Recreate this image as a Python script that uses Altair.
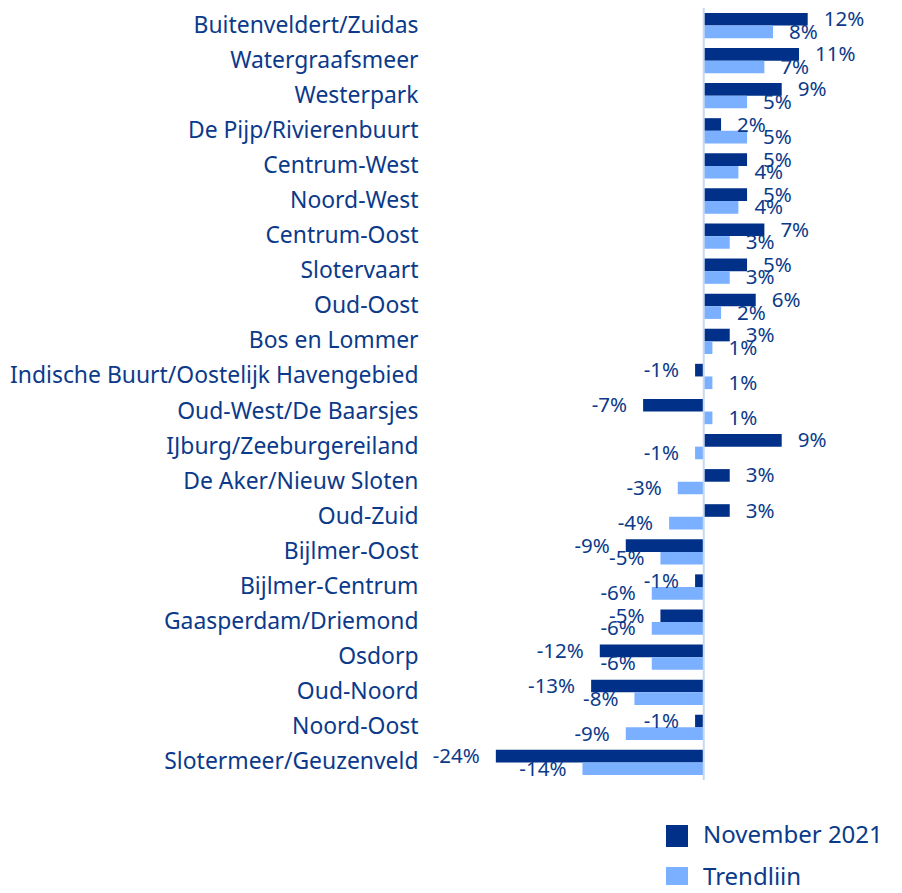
import altair as alt
import pandas as pd

categories = [
    "Buitenveldert/Zuidas", "Watergraafsmeer", "Westerpark", "De Pijp/Rivierenbuurt",
    "Centrum-West", "Noord-West", "Centrum-Oost", "Slotervaart", "Oud-Oost",
    "Bos en Lommer", "Indische Buurt/Oostelijk Havengebied", "Oud-West/De Baarsjes",
    "IJburg/Zeeburgereiland", "De Aker/Nieuw Sloten", "Oud-Zuid", "Bijlmer-Oost",
    "Bijlmer-Centrum", "Gaasperdam/Driemond", "Osdorp", "Oud-Noord", "Noord-Oost",
    "Slotermeer/Geuzenveld",
]
november_2021 = [12, 11, 9, 2, 5, 5, 7, 5, 6, 3, -1, -7, 9, 3, 3, -9, -1, -5, -12, -13, -1, -24]
trendlijn = [8, 7, 5, 5, 4, 4, 3, 3, 2, 1, 1, 1, -1, -3, -4, -5, -6, -6, -6, -8, -9, -14]
series = ["November 2021", "Trendlijn"]
colors = ["#003087", "#7ab0ff"]

rows = []
for c, a, b in zip(categories, november_2021, trendlijn):
    rows.append({"cat": c, "series": series[0], "v": a / 100, "lbl": f"{a}%"})
    rows.append({"cat": c, "series": series[1], "v": b / 100, "lbl": f"{b}%"})
df = pd.DataFrame(rows)

FONT = "Noto Sans"
TXT = "#0b3a8a"

y_enc = alt.Y("cat:N", sort=categories, axis=alt.Axis(
    title=None, ticks=False, domain=False, labelPadding=12, labelFontSize=22.9,
    labelFont=FONT, labelColor=TXT, labelLimit=600),
    scale=alt.Scale(paddingInner=0.28, paddingOuter=0.14))
x_scale = alt.Scale(domain=[-0.316, 0.20], nice=False, zero=False)

base = alt.Chart(df)

bars = base.mark_bar().encode(
    x=alt.X("v:Q", scale=x_scale, axis=None),
    y=y_enc,
    yOffset=alt.YOffset("series:N", sort=series),
    color=alt.Color("series:N", sort=series,
                    scale=alt.Scale(domain=series, range=colors),
                    legend=alt.Legend(title=None, orient="none", legendX=235, legendY=816,
                                      symbolType="square", symbolSize=484, symbolStrokeWidth=0,
                                      labelFontSize=24, labelFont=FONT, labelColor=TXT,
                                      labelOffset=14, rowPadding=18, padding=0,
                                      labelLimit=400)),
)

lbl_common = dict(fontSize=20.5, font=FONT, color=TXT, baseline="middle", dy=1)
pos_txt = base.transform_filter("datum.v >= 0").mark_text(align="left", dx=16, **lbl_common).encode(
    x=alt.X("v:Q", scale=x_scale, axis=None),
    y=alt.Y("cat:N", sort=categories),
    yOffset=alt.YOffset("series:N", sort=series),
    text="lbl:N",
)
neg_txt = base.transform_filter("datum.v < 0").mark_text(align="right", dx=-16, **lbl_common).encode(
    x=alt.X("v:Q", scale=x_scale, axis=None),
    y=alt.Y("cat:N", sort=categories),
    yOffset=alt.YOffset("series:N", sort=series),
    text="lbl:N",
)

rule = alt.Chart(pd.DataFrame({"z": [0]})).mark_rule(color="#c6d9f1", strokeWidth=2).encode(
    x=alt.X("z:Q", scale=x_scale, axis=None)
)

chart = alt.layer(bars, rule, pos_txt, neg_txt).properties(
    width=447, height=772,
    autosize=alt.AutoSizeParams(type="none"),
    padding={"left": 422, "top": 0, "right": 10, "bottom": 105},
).configure_view(stroke=None)

chart.save("out.html", embed_options={"renderer": "svg", "actions": False})
